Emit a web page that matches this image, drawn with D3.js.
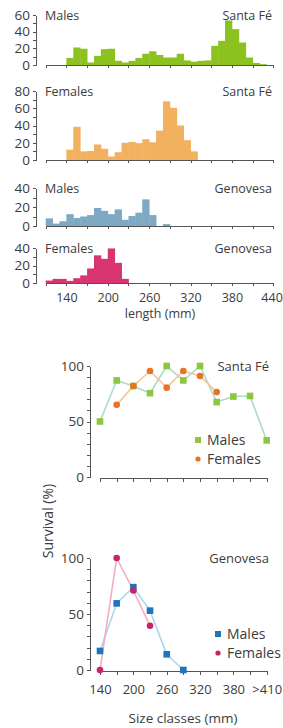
<!DOCTYPE html>
<html><head><meta charset="utf-8">
<script src="https://cdn.jsdelivr.net/npm/d3@7"></script>
<style>
body{margin:0;background:#fff}
svg{display:block}
text{font-family:'Open Sans',sans-serif;fill:#3c3c3c}
.axis path,.axis line{stroke:#555;stroke-width:1;shape-rendering:crispEdges}
</style>
</head><body><svg id="c" width="283" height="728"></svg>
<script>
// ---------- histogram data (10 mm bins, start of bin in mm) ----------
const bins = [110,120,130,140,150,160,170,180,190,200,210,220,230,240,250,260,270,280,290,300,310,320,330,340,350,360,370,380,390,400,410,420,430];
const malesSantaFe   = [0,0,0,8.5,21,19.5,3,11,19,19.5,5,3,5,8.5,13.5,16.5,12,9,9,13.5,5.5,4,5,5.5,23,29,53.5,43,27,9,2.5,1,0];
const femalesSantaFe = [0,0,0,12,38.5,10,10.5,18,13,4,9,20,21,19.5,24,20.5,34,68,60.5,40,23,10,0,0,0,0,0,0,0,0,0,0,0];
const malesGenovesa  = [8,2.5,5,12.5,8.5,10,11.5,19,16,12.5,17.5,6.5,10.5,14,28,11.5,0,2,0,0,0,0,0,0,0,0,0,0,0,0,0,0,0];
const femalesGenovesa= [2.8,4.7,4.7,2.4,5.5,8.7,16.6,31.6,27.6,39.5,23,4.7,0,0,0,0,0,0,0,0,0,0,0,0,0,0,0,0,0,0,0,0,0];
const histTicks = [110,140,170,200,230,260,290,320,350,380,410,440];
const histTickLabels = [140,200,260,320,380,440];

// ---------- survival data ----------
const sizeClasses = ["140","170","200","230","260","290","320","350","380","410",">410"];
const sizeLabels  = ["140","200","260","320","380",">410"];
const survMalesSantaFe   = [50,87,82,75.5,100,87,100,67.5,72.5,73,33];
const survFemalesSantaFe = [null,65,82,95.5,80.5,95.5,91,76.5,null,null,null];
const survMalesGenovesa  = [17,59.5,74,53,14,0,null,null,null,null,null];
const survFemalesGenovesa= [0,100,71,39.5,null,null,null,null,null,null,null];

const svg = d3.select("#c");

// ---------- histograms ----------
const x = d3.scaleLinear().domain([110,440]).range([45.7,273.3]);
const panels = [
  {values:malesSantaFe,   max:60, top:15,  axis:65,  color:"#8cc21f", left:"Males",   right:"Santa Fé", labels:false},
  {values:femalesSantaFe, max:80, top:91,  axis:160, color:"#f2b15f", left:"Females", right:"Santa Fé", labels:false},
  {values:malesGenovesa,  max:40, top:188, axis:226, color:"#7ea8c3", left:"Males",   right:"Genovesa", labels:false},
  {values:femalesGenovesa,max:40, top:248, axis:283, color:"#d8346f", left:"Females", right:"Genovesa", labels:true}
];
panels.forEach(p=>{
  const y = d3.scaleLinear().domain([0,p.max]).range([p.axis,p.top]);
  const g = svg.append("g");
  g.selectAll("rect").data(bins.map((b,i)=>({b,v:p.values[i]})).filter(d=>d.v>0))
    .join("rect")
    .attr("x",d=>x(d.b)).attr("width",d=>x(d.b+10)-x(d.b)+0.4)
    .attr("y",d=>y(d.v)).attr("height",d=>y(0)-y(d.v))
    .attr("fill",p.color);
  const ya = d3.axisLeft(y).tickValues(d3.range(0,p.max+1,10)).tickSize(3).tickSizeOuter(0)
    .tickFormat(d=>d%20===0?d:"");
  const yg = g.append("g").attr("class","axis").attr("transform","translate(36,0)").call(ya);
  yg.selectAll("text").style("font-size","13.5px").attr("x",-6);
  const xa = d3.axisBottom(x).tickValues(histTicks).tickSize(3).tickSizeOuter(0)
    .tickFormat(d=>p.labels && histTickLabels.includes(d)?d:"");
  const xg = g.append("g").attr("class","axis").attr("transform",`translate(0,${p.axis})`).call(xa);
  xg.selectAll("text").style("font-size","12.5px").attr("dy","1.05em")
    .filter(d=>d===440).attr("text-anchor","end").attr("dx","9px");
  g.append("text").attr("x",45).attr("y",p.top+4.5).style("font-size","12.5px").text(p.left);
  g.append("text").attr("x",272).attr("y",p.top+4.5).attr("text-anchor","end").style("font-size","12.5px").text(p.right);
});
svg.append("text").attr("x",160).attr("y",318).attr("text-anchor","middle").style("font-size","12.5px").text("length (mm)");

// ---------- survival charts ----------
const xs = d3.scalePoint().domain(sizeClasses).range([100,266.7]);
const surv = [
  {y0:477, y1:366, males:survMalesSantaFe, females:survFemalesSantaFe,
   mCol:"#8dc63f", mLine:"#addcc4", fCol:"#ea7227", fLine:"#f6c594", title:"Santa Fé",
   leg:[198,440], labels:false},
  {y0:670, y1:558, males:survMalesGenovesa, females:survFemalesGenovesa,
   mCol:"#1f75bb", mLine:"#abd5ef", fCol:"#c6236b", fLine:"#f5abc1", title:"Genovesa",
   leg:[218,634], labels:true}
];
surv.forEach(s=>{
  const y = d3.scaleLinear().domain([0,100]).range([s.y0,s.y1]);
  const g = svg.append("g");
  const ya = d3.axisLeft(y).tickValues(d3.range(0,101,10)).tickSize(3).tickSizeOuter(0)
    .tickFormat(d=>d%50===0?d:"");
  const yg = g.append("g").attr("class","axis").attr("transform","translate(90,0)").call(ya);
  yg.selectAll("text").style("font-size","13.5px").attr("x",-6);
  const xa = d3.axisBottom(xs).tickSize(4).tickSizeOuter(0)
    .tickFormat(d=>s.labels && sizeLabels.includes(d)?d:"");
  const xg = g.append("g").attr("class","axis").attr("transform",`translate(0,${s.y0+1})`).call(xa);
  xg.select(".domain").attr("d",`M${xs(sizeClasses[0])},0H${xs(sizeClasses[sizeClasses.length-1])}`);
  xg.selectAll("text").style("font-size","13px").attr("dy","1.25em");
  const pts = arr => arr.map((v,i)=>({c:sizeClasses[i],v}));
  const line = d3.line().defined(d=>d.v!=null).x(d=>xs(d.c)).y(d=>y(d.v));
  g.append("path").attr("d",line(pts(s.males))).attr("fill","none").attr("stroke",s.mLine).attr("stroke-width",1.6);
  g.append("path").attr("d",line(pts(s.females))).attr("fill","none").attr("stroke",s.fLine).attr("stroke-width",1.6);
  g.selectAll(".m").data(pts(s.males).filter(d=>d.v!=null)).join("rect")
    .attr("x",d=>xs(d.c)-3.3).attr("y",d=>y(d.v)-3.3).attr("width",6.6).attr("height",6.6).attr("fill",s.mCol);
  g.selectAll(".f").data(pts(s.females).filter(d=>d.v!=null)).join("circle")
    .attr("cx",d=>xs(d.c)).attr("cy",d=>y(d.v)).attr("r",3.3).attr("fill",s.fCol);
  g.append("text").attr("x",269).attr("y",s.y1+5).attr("text-anchor","end").style("font-size","13px").text(s.title);
  // legend
  const [lx,ly] = s.leg;
  g.append("rect").attr("x",lx-3).attr("y",ly-3).attr("width",6).attr("height",6).attr("fill",s.mCol);
  g.append("text").attr("x",lx+9).attr("y",ly+5).style("font-size","14px").text("Males");
  g.append("circle").attr("cx",lx).attr("cy",ly+19).attr("r",2.6).attr("fill",s.fCol);
  g.append("text").attr("x",lx+9).attr("y",ly+24).style("font-size","14px").text("Females");
});
svg.append("text").attr("transform","translate(53,521) rotate(-90)").attr("text-anchor","middle")
  .style("font-size","14px").text("Survival (%)");
svg.append("text").attr("x",183).attr("y",723).attr("text-anchor","middle").style("font-size","13.5px").text("Size classes (mm)");
</script></body></html>
